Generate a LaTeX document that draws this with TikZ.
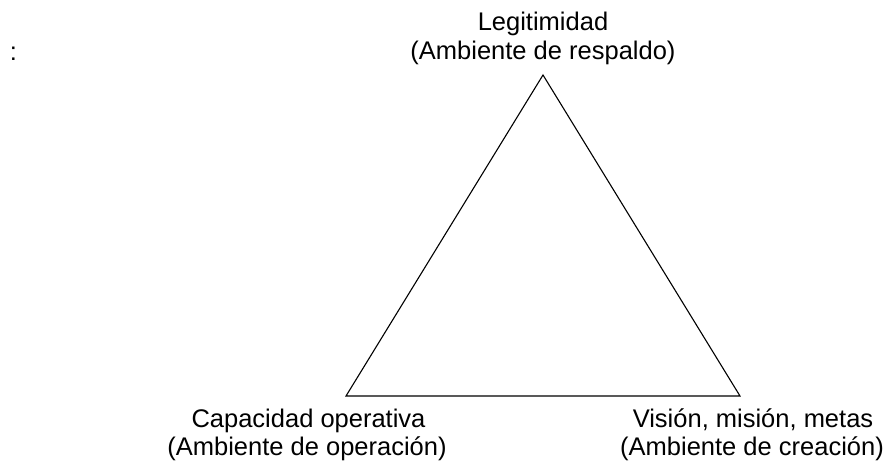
\documentclass[tikz,border=0pt]{standalone}
\usepackage{fontspec}
\setmainfont{Liberation Sans}
\begin{document}
\begin{tikzpicture}[x=1pt,y=-1pt,
  lbl/.style={anchor=base,inner sep=0pt,font=\fontsize{25.5}{29}\selectfont},
  edge/.style={draw=black,line width=1.1pt,line join=miter}]
\useasboundingbox (0,0) rectangle (884,461);
\coordinate (apex) at (543,75);
\coordinate (bl) at (346,396);
\coordinate (br) at (740,396);
\draw[edge] (apex) -- (bl) -- (br) -- cycle;
\node[lbl] (colon) at (13.5,60) {:};
\node[lbl] (top1) at (543,30.5) {Legitimidad};
\node[lbl] (top2) at (543,59) {(Ambiente de respaldo)};
\node[lbl] (left1) at (308.5,427) {Capacidad operativa};
\node[lbl] (left2) at (307,455) {(Ambiente de operación)};
\node[lbl] (right1) at (753,427) {Visión, misión, metas};
\node[lbl] (right2) at (752,455) {(Ambiente de creación)};
\end{tikzpicture}
\end{document}
